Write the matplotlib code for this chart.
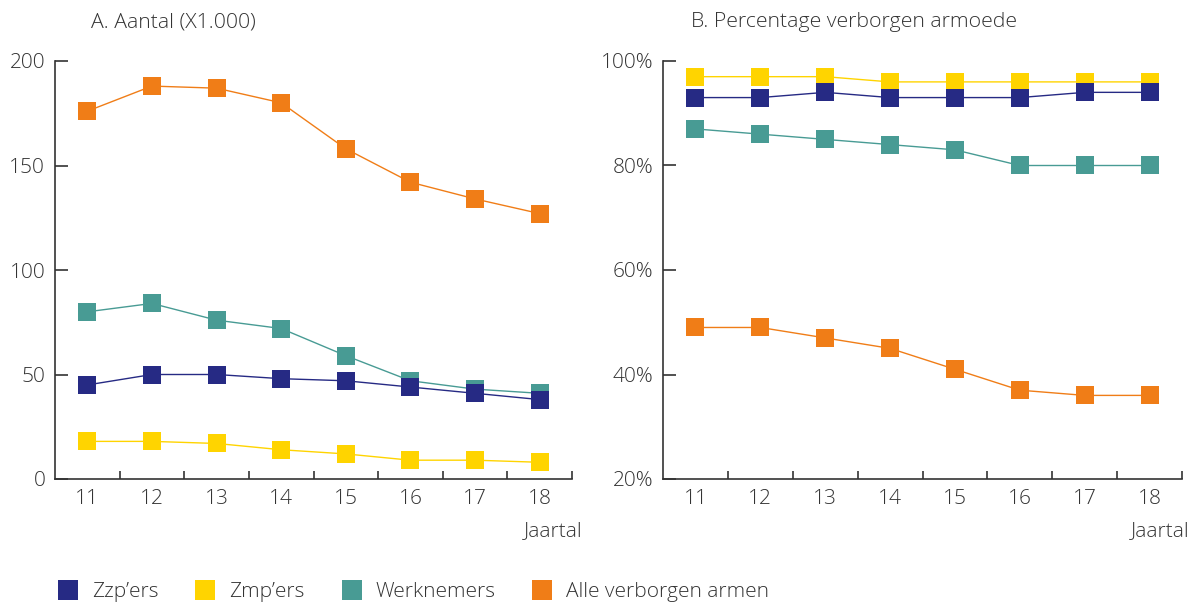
import numpy as np
import matplotlib
matplotlib.use('Agg')
import matplotlib.pyplot as plt
from matplotlib.lines import Line2D

plt.rcParams['font.family'] = ['Open Sans', 'DejaVu Sans']
plt.rcParams['font.weight'] = 'light'

jaren = [11, 12, 13, 14, 15, 16, 17, 18]
jaar_labels = ['11', '12', '13', '14', '15', '16', '17', '18']

# A. aantal (x1.000)
aantal_zzp = [45, 50, 50, 48, 47, 44, 41, 38]
aantal_zmp = [18, 18, 17, 14, 12, 9, 9, 8]
aantal_werk = [80, 84, 76, 72, 59, 47, 43, 41]
aantal_alle = [176, 188, 187, 180, 158, 142, 134, 127]

# B. percentage verborgen armoede
pct_zzp = [93, 93, 94, 93, 93, 93, 94, 94]
pct_zmp = [97, 97, 97, 96, 96, 96, 96, 96]
pct_werk = [87, 86, 85, 84, 83, 80, 80, 80]
pct_alle = [49, 49, 47, 45, 41, 37, 36, 36]

namen = ["Zzp\u2019ers", "Zmp\u2019ers", "Werknemers", "Alle verborgen armen"]
kleuren = ['#262a84', '#ffd400', '#489b94', '#f07d17']
tekst = '#333333'

W, H = 1195, 608
fig = plt.figure(figsize=(W / 100, H / 100), dpi=100)

def px(x0, y0, x1, y1):
    return [x0 / W, 1 - y1 / H, (x1 - x0) / W, (y1 - y0) / H]

axA = fig.add_axes(px(55, 61, 572, 479))
axB = fig.add_axes(px(663, 61, 1182, 479))

def teken(ax, zzp, zmp, werk, alle):
    # volgorde zodat zzp bovenop ligt
    for vals, i in [(alle, 3), (werk, 2), (zmp, 1), (zzp, 0)]:
        ax.plot(jaren, vals, color=kleuren[i], lw=1.0, marker='s',
                markersize=12.5, markeredgewidth=0, clip_on=False)
    ax.set_xlim(10.5, 18.5)
    for s in ['top', 'right']:
        ax.spines[s].set_visible(False)
    for s in ['left', 'bottom']:
        ax.spines[s].set_color('#333333')
        ax.spines[s].set_linewidth(1.2)
    ax.set_xticks(jaren)
    ax.set_xticklabels(jaar_labels)
    ax.set_xticks(np.arange(11.5, 19, 1), minor=True)
    ax.tick_params(axis='x', which='major', length=0, pad=7, labelsize=15, labelcolor=tekst)
    ax.tick_params(axis='x', which='minor', direction='in', length=6, width=1.2, color='#333333')
    ax.tick_params(axis='y', direction='in', length=9, width=1.2, color='#333333',
                   pad=7, labelsize=15, labelcolor=tekst)

teken(axA, aantal_zzp, aantal_zmp, aantal_werk, aantal_alle)
axA.set_ylim(0, 200)
axA.set_yticks([0, 50, 100, 150, 200])

teken(axB, pct_zzp, pct_zmp, pct_werk, pct_alle)
axB.set_ylim(20, 100)
axB.set_yticks([20, 40, 60, 80, 100])
axB.set_yticklabels(['20%', '40%', '60%', '80%', '100%'])

fig.text(91 / W, 1 - 22 / H, 'A. Aantal (X1.000)', fontsize=15.3, color=tekst, va='center')
fig.text(691 / W, 1 - 22 / H, 'B. Percentage verborgen armoede', fontsize=15.3, color=tekst, va='center')
fig.text(582 / W, 1 - 531 / H, 'Jaartal', fontsize=15, color=tekst, ha='right', va='center')
fig.text(1189 / W, 1 - 531 / H, 'Jaartal', fontsize=15, color=tekst, ha='right', va='center')

handles = [Line2D([], [], ls='none', marker='s', markersize=15, markeredgewidth=0, color=c)
           for c in kleuren]
fig.legend(handles, namen, loc='center left', bbox_to_anchor=(43 / W, 1 - 592 / H),
           ncol=4, frameon=False, fontsize=15, handlelength=1.0, handletextpad=0.65,
           columnspacing=1.75, labelcolor=tekst, borderpad=0.2)

fig.savefig('out.png', dpi=100)
